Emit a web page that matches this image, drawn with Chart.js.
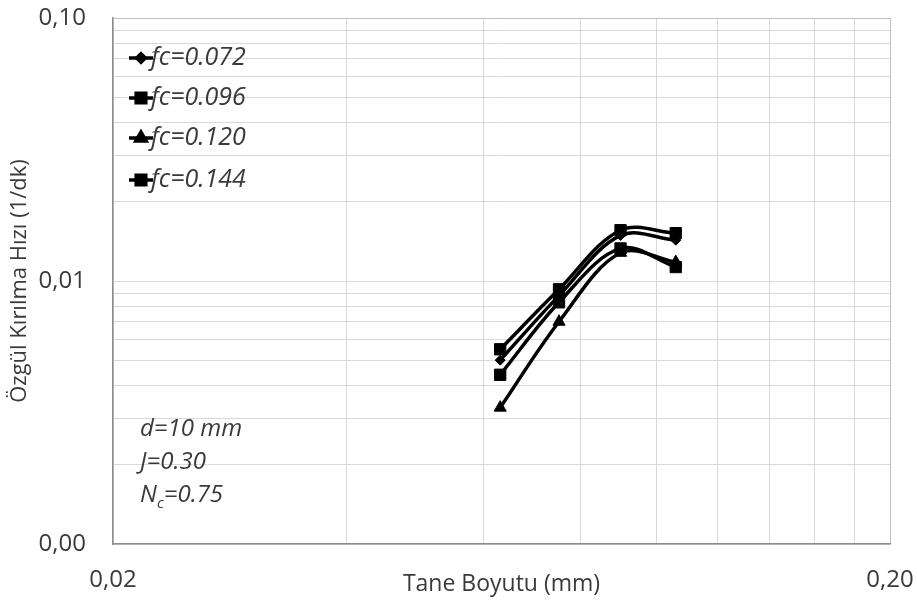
<!DOCTYPE html>
<html><head><meta charset="utf-8">
<script src="https://cdn.jsdelivr.net/npm/chart.js@4/dist/chart.umd.min.js"></script>
<style>html,body{margin:0;padding:0;background:#fff}#wrap{width:917px;height:603px;position:relative}</style>
</head><body><div id="wrap"><canvas id="c" width="917" height="603"></canvas></div>
<script>
// ---- data ----
const sizes = [0.063, 0.075, 0.090, 0.106];
const fc072 = [0.0050, 0.0088, 0.0149, 0.0143];
const fc096 = [0.0044, 0.0083, 0.0133, 0.0113];
const fc120 = [0.0033, 0.0070, 0.0128, 0.0118];
const fc144 = [0.0055, 0.0093, 0.0156, 0.0152];
const seriesLabels = ['fc=0.072', 'fc=0.096', 'fc=0.120', 'fc=0.144'];
const xTicks = [0.02, 0.04, 0.06, 0.08, 0.10, 0.12, 0.14, 0.16, 0.18, 0.20];
const xLabelled = [0.02, 0.20];
const yTicks = [0.001,0.002,0.003,0.004,0.005,0.006,0.007,0.008,0.009,0.01,0.02,0.03,0.04,0.05,0.06,0.07,0.08,0.09,0.1];
const yLabelled = [0.001, 0.01, 0.1];
const xTitle = 'Tane Boyutu (mm)';
const yTitle = 'Özgül Kırılma Hızı (1/dk)';
const notes = ['d=10 mm', 'J=0.30'];

const allSeries = [fc072, fc096, fc120, fc144];
const styles = [
  {pointStyle:'rectRot', radius:5},
  {pointStyle:'rect', radius:8},
  {pointStyle:'triangle', radius:7},
  {pointStyle:'rect', radius:8}
];
const fmt = v => v.toFixed(2).replace('.', ',');
const near = (v, arr) => arr.some(a => Math.abs(a - v) / a < 1e-6);
const TXT = '#3a3a3a';

const datasets = allSeries.map((vals, i) => ({
  label: seriesLabels[i],
  data: sizes.map((s, j) => ({x: s, y: vals[j]})),
  borderColor: '#000', backgroundColor: '#000',
  borderWidth: 3.5, tension: 0.35,
  pointStyle: styles[i].pointStyle, pointRadius: styles[i].radius,
  pointBorderWidth: 1, pointBorderColor: '#000', pointBackgroundColor: '#000'
}));

const overlay = {
  id: 'overlay',
  afterDraw(chart) {
    const ctx = chart.ctx;
    ctx.save();
    const ly = [58, 98, 138, 180];
    seriesLabels.forEach((lab, i) => {
      ctx.strokeStyle = '#000'; ctx.lineWidth = 3.5;
      ctx.beginPath(); ctx.moveTo(129, ly[i]); ctx.lineTo(153, ly[i]); ctx.stroke();
      ctx.fillStyle = '#000';
      Chart.helpers.drawPoint(ctx, {pointStyle: styles[i].pointStyle, radius: styles[i].radius * 0.85, borderWidth: 1}, 141, ly[i]);
      ctx.font = 'italic 25px "Open Sans"';
      ctx.fillStyle = TXT; ctx.textBaseline = 'middle'; ctx.textAlign = 'left';
      ctx.fillText(lab, 151, ly[i]);
    });
    ctx.font = 'italic 24px "Open Sans"';
    ctx.fillStyle = TXT; ctx.textBaseline = 'middle';
    ctx.fillText(notes[0], 140, 429);
    ctx.fillText(notes[1], 140, 462);
    let x = 140;
    ctx.fillText('N', x, 495); x += ctx.measureText('N').width;
    ctx.font = 'italic 15px "Open Sans"';
    ctx.fillText('c', x, 504); x += ctx.measureText('c').width;
    ctx.font = 'italic 24px "Open Sans"';
    ctx.fillText('=0.75', x, 495);
    ctx.restore();
  }
};

new Chart(document.getElementById('c'), {
  type: 'line',
  data: {datasets},
  plugins: [overlay],
  options: {
    responsive: false, animation: false,
    layout: {padding: {left: 0, right: 27, top: 18, bottom: 0}},
    plugins: {legend: {display: false}, tooltip: {enabled: false}},
    scales: {
      x: {
        type: 'logarithmic', min: 0.02, max: 0.2,
        afterBuildTicks: s => { s.ticks = xTicks.map(v => ({value: v})); },
        afterFit: s => { s.height = 59; s.paddingLeft = 0; s.paddingRight = 0; },
        ticks: {autoSkip: false, maxRotation: 0, padding: 22, color: TXT,
          font: {family: 'Open Sans', size: 24},
          callback: v => near(v, xLabelled) ? fmt(v) : ''},
        grid: {drawTicks: false, lineWidth: 1,
          color: c => (c.tick && Math.abs(c.tick.value - 0.2) < 1e-9) ? '#bfbfbf' : '#d9d9d9'},
        border: {color: '#8c8c8c', width: 1.5},
        title: {display: true, text: xTitle, color: TXT,
          font: {family: 'Open Sans', size: 23}, padding: {top: 0, bottom: 5}}
      },
      y: {
        type: 'logarithmic', min: 0.001, max: 0.1,
        afterBuildTicks: s => { s.ticks = yTicks.map(v => ({value: v})); },
        afterFit: s => { s.width = 113; s.paddingTop = 0; s.paddingBottom = 0; },
        ticks: {autoSkip: false, padding: 27, color: TXT,
          font: {family: 'Open Sans', size: 24},
          callback: v => near(v, yLabelled) ? fmt(v) : ''},
        grid: {drawTicks: false, lineWidth: 1,
          color: c => (c.tick && Math.abs(c.tick.value - 0.1) < 1e-9) ? '#bfbfbf' : '#d9d9d9'},
        border: {color: '#8c8c8c', width: 1.5},
        title: {display: true, text: yTitle, color: TXT,
          font: {family: 'Open Sans', size: 22}, padding: {top: 7, bottom: 0}}
      }
    }
  }
});
</script></body></html>
